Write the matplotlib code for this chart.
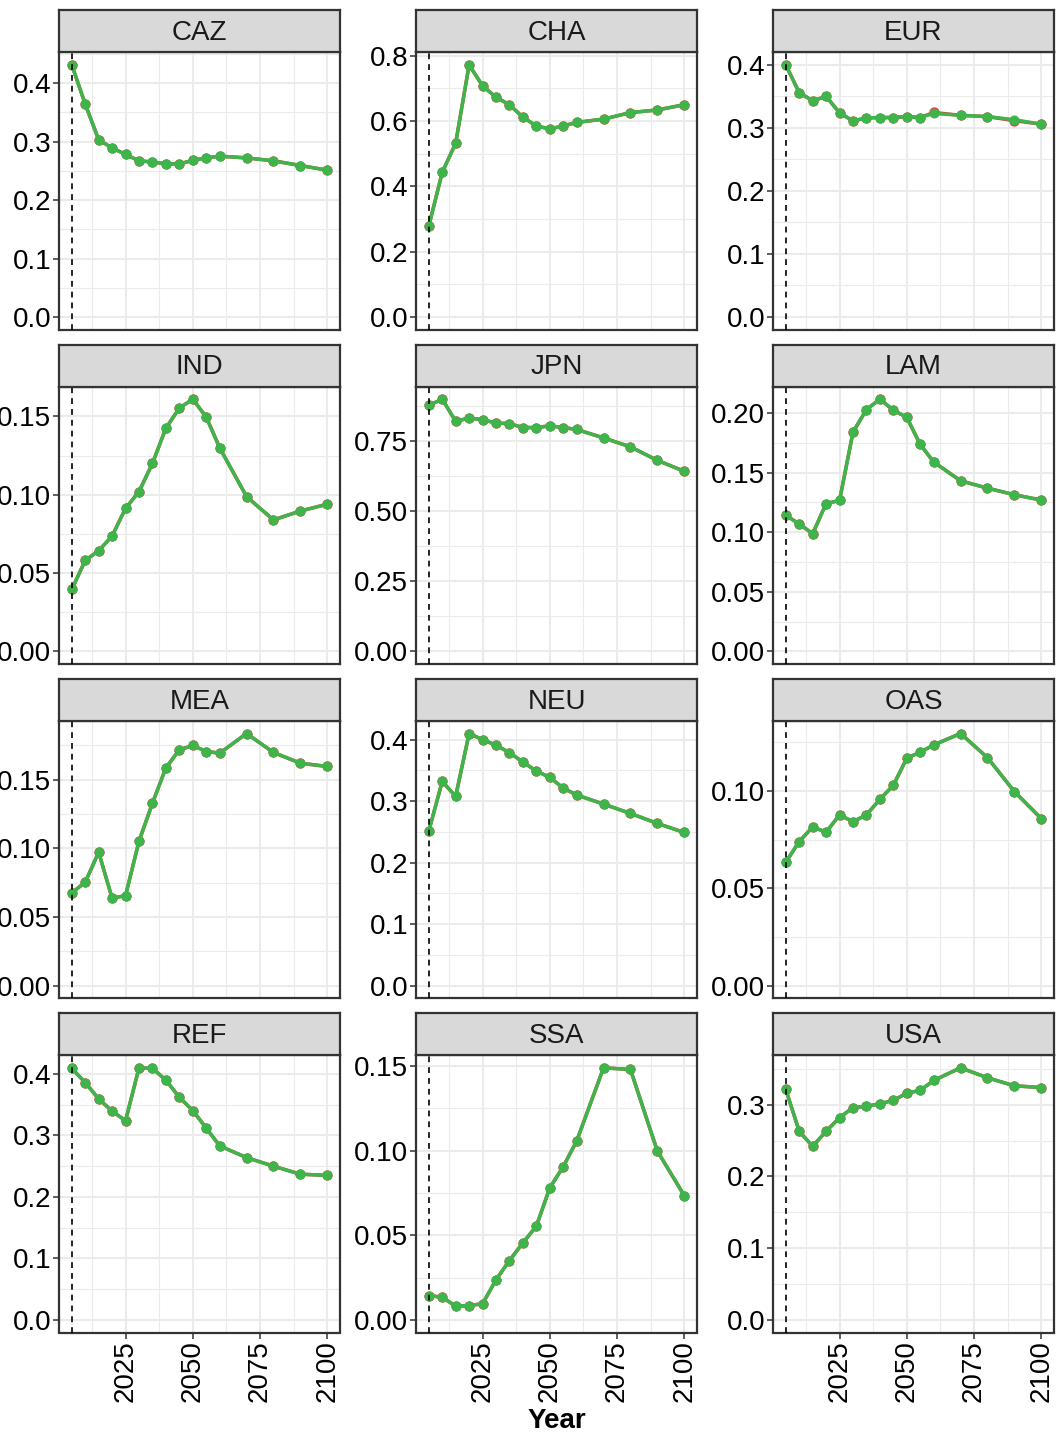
import matplotlib
matplotlib.use("Agg")
import matplotlib.pyplot as plt
from matplotlib.ticker import MultipleLocator, FormatStrFormatter

plt.rcParams['font.family'] = ['Liberation Sans', 'DejaVu Sans']

years = [2005, 2010, 2015, 2020, 2025, 2030, 2035, 2040, 2045, 2050, 2055, 2060,
         2070, 2080, 2090, 2100]
regions = ["CAZ", "CHA", "EUR", "IND", "JPN", "LAM",
           "MEA", "NEU", "OAS", "REF", "SSA", "USA"]

caz = [0.431, 0.364, 0.303, 0.289, 0.278, 0.267, 0.265, 0.262, 0.2615, 0.268, 0.272, 0.275,
       0.272, 0.267, 0.259, 0.251]
cha = [0.278, 0.443, 0.532, 0.772, 0.708, 0.673, 0.650, 0.612, 0.585, 0.576, 0.585, 0.596,
       0.606, 0.626, 0.634, 0.650]
eur = [0.400, 0.356, 0.343, 0.350, 0.324, 0.311, 0.316, 0.3165, 0.3165, 0.318, 0.3165, 0.323,
       0.320, 0.318, 0.313, 0.306]
ind = [0.0395, 0.058, 0.0642, 0.0736, 0.0913, 0.102, 0.120, 0.1425, 0.1553, 0.161, 0.1496, 0.130,
       0.0988, 0.0839, 0.0896, 0.0939]
jpn = [0.877, 0.899, 0.820, 0.832, 0.826, 0.814, 0.812, 0.798, 0.798, 0.804, 0.798, 0.791,
       0.761, 0.729, 0.681, 0.642]
lam = [0.1141, 0.107, 0.0987, 0.124, 0.1267, 0.184, 0.203, 0.2117, 0.2025, 0.1964, 0.1737, 0.159,
       0.1432, 0.137, 0.1315, 0.127]
mea = [0.0675, 0.0752, 0.0971, 0.0636, 0.0655, 0.1051, 0.1328, 0.1585, 0.1716, 0.1748, 0.1704, 0.1692,
       0.1835, 0.1697, 0.1619, 0.1595]
neu = [0.2513, 0.332, 0.3077, 0.410, 0.400, 0.391, 0.379, 0.3636, 0.349, 0.3387, 0.3213, 0.310,
       0.2952, 0.280, 0.2638, 0.249]
oas = [0.0634, 0.074, 0.0815, 0.0788, 0.0877, 0.0842, 0.0877, 0.0957, 0.1029, 0.1168, 0.1199, 0.1236,
       0.1295, 0.1171, 0.0997, 0.0858]
ref = [0.409, 0.386, 0.3595, 0.3395, 0.324, 0.410, 0.409, 0.390, 0.362, 0.3405, 0.312, 0.283,
       0.264, 0.250, 0.237, 0.235]
ssa = [0.0144, 0.0134, 0.0081, 0.0085, 0.0095, 0.0237, 0.0351, 0.0455, 0.0554, 0.078, 0.0906, 0.1057,
       0.149, 0.148, 0.0998, 0.0735]
usa = [0.3213, 0.263, 0.242, 0.263, 0.282, 0.296, 0.2977, 0.3014, 0.306, 0.3162, 0.320, 0.3338,
       0.3515, 0.3376, 0.3264, 0.324]

# second scenario (red) almost identical, hidden under the green one
eur_red = [0.400, 0.356, 0.343, 0.350, 0.324, 0.311, 0.316, 0.3165, 0.3165, 0.318, 0.3165, 0.3245,
           0.320, 0.318, 0.3115, 0.306]

green_series = [caz, cha, eur, ind, jpn, lam, mea, neu, oas, ref, ssa, usa]
red_series = [caz, cha, eur_red, ind, jpn, lam, mea, neu, oas, ref, ssa, usa]
tick_steps = [0.1, 0.2, 0.1, 0.05, 0.25, 0.05, 0.05, 0.1, 0.05, 0.1, 0.05, 0.1]

W, H = 1056, 1436
fig = plt.figure(figsize=(W / 100, H / 100), dpi=100)

green = '#3DB54A'
red = '#E8343F'
frame = '#333333'
fs = 20

for i, name in enumerate(regions):
    r, c = divmod(i, 3)
    left = 59 + c * 357
    width = 281
    top = 52.3 + r * 334.3
    ph = 277.3
    ax = fig.add_axes([left / W, 1 - (top + ph) / H, width / W, ph / H])
    sax = fig.add_axes([left / W, 1 - top / H, width / W, 42 / H])

    # strip
    sax.set_facecolor('#D9D9D9')
    sax.set_xticks([])
    sax.set_yticks([])
    for s in sax.spines.values():
        s.set_color(frame)
        s.set_linewidth(1.6)
    sax.text(0.5, 0.46, name, ha='center', va='center', fontsize=fs,
             color='#1A1A1A', transform=sax.transAxes)

    vals = green_series[i]
    ax.plot(years, red_series[i], color=red, lw=2.5, marker='o', ms=6.4, zorder=3)
    ax.plot(years, vals, color=green, lw=2.5, marker='o', ms=6.2, zorder=4)
    ax.axvline(2005, color='black', lw=1.2, ls=(0, (3.5, 3.0)), zorder=5)

    lo = min(0, min(vals))
    hi = max(vals)
    pad = (hi - lo) * 0.05
    ax.set_ylim(lo - pad, hi + pad)
    ax.set_xlim(2000.25, 2104.75)

    step = tick_steps[i]
    ax.yaxis.set_major_locator(MultipleLocator(step))
    ax.yaxis.set_minor_locator(MultipleLocator(step / 2))
    ax.yaxis.set_major_formatter(FormatStrFormatter('%.1f' if step in (0.1, 0.2) else '%.2f'))
    ax.set_xticks([2025, 2050, 2075, 2100])
    ax.set_xticks([2012.5, 2037.5, 2062.5, 2087.5], minor=True)

    ax.grid(which='major', color='#EBEBEB', lw=1.5, zorder=0)
    ax.grid(which='minor', color='#EBEBEB', lw=0.8, zorder=0)
    ax.set_axisbelow(True)

    for s in ax.spines.values():
        s.set_color(frame)
        s.set_linewidth(1.6)

    ax.tick_params(axis='y', which='major', length=4, width=1.1, color=frame,
                   labelsize=fs, labelcolor='black', pad=1.5)
    ax.tick_params(which='minor', length=0)
    if r == 3:
        ax.tick_params(axis='x', which='major', length=4, width=1.1, color=frame,
                       labelsize=fs, labelcolor='black', labelrotation=90, pad=1.5)
    else:
        ax.tick_params(axis='x', which='major', length=0, labelbottom=False)

fig.text(556.5 / W, 1 - 1421 / H, 'Year', ha='center', va='center',
         fontsize=fs, fontweight='bold')

fig.savefig('out.png', dpi=100)
